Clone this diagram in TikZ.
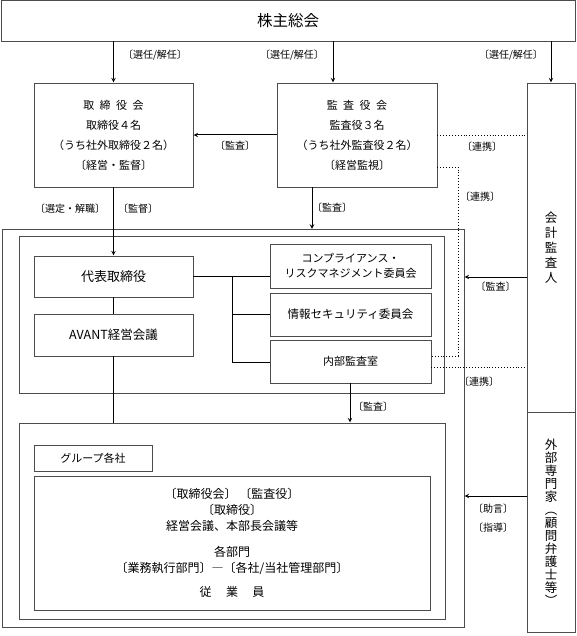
\documentclass[tikz,border=0pt]{standalone}
\usepackage{fontspec}
\setmainfont{Noto Sans CJK JP}
\usetikzlibrary{arrows, positioning, calc}
\tikzstyle{unit} = [rectangle, draw=black!70, line width=0.8pt, inner sep=0pt, align=center, font=\fontsize{11}{20}\selectfont]
\tikzstyle{frame} = [rectangle, draw=black!70, line width=0.8pt, inner sep=0pt]
\tikzstyle{note} = [font=\fontsize{10}{11}\selectfont, inner sep=1pt]
\tikzstyle{arrow} = [line width=1pt, ->, >=stealth, shorten >=0.2pt]
\tikzstyle{wire} = [line width=0.9pt]
\tikzstyle{link} = [line width=0.9pt, dotted]

\begin{document}
\begin{tikzpicture}[x=1pt, y=-1pt]
\useasboundingbox (0,0) rectangle (576,636);
% outside the company
\node (soukai) [unit, minimum width=574, minimum height=41, font=\fontsize{15.5}{18}\selectfont] at (288,20.5) {株主総会};
\node (board) [unit, minimum width=159, minimum height=104] at (113.5,135) {取\hspace{0.5em}締\hspace{0.5em}役\hspace{0.5em}会\\取締役４名\\（うち社外取締役２名）\\〔経営・監督〕};
\node (kansa) [unit, minimum width=160, minimum height=104] at (357,135) {監\hspace{0.5em}査\hspace{0.5em}役\hspace{0.5em}会\\監査役３名\\（うち社外監査役２名）\\〔経営監視〕};
\node (kaikei) [unit, minimum width=48, minimum height=329, font=\fontsize{12.5}{15}\selectfont] at (551,247.5) {会\\計\\監\\査\\人};
\node (gaibu) [unit, minimum width=48, minimum height=220, font=\fontsize{12.5}{13}\selectfont] at (551,522) {外\\部\\専\\門\\家\\︵\\顧\\問\\弁\\護\\士\\等\\︶};
% company
\node (company) [frame, minimum width=462, minimum height=398] at (233,428) {};
\node (exec) [frame, minimum width=425, minimum height=157] at (231.5,314.5) {};
\node (daihyo) [unit, minimum width=159, minimum height=41, font=\fontsize{13}{15}\selectfont] at (113.5,276.5) {代表取締役};
\node (avant) [unit, minimum width=159, minimum height=42, font=\fontsize{12.5}{15}\selectfont] at (113.5,335) {AVANT経営会議};
\node (comp) [unit, minimum width=161, minimum height=44, font=\fontsize{11}{15}\selectfont] at (350.5,266) {コンプライアンス・\\リスクマネジメント委員会};
\node (joho) [unit, minimum width=161, minimum height=43, font=\fontsize{11.5}{15}\selectfont] at (350.5,314.5) {情報セキュリティ委員会};
\node (naibu) [unit, minimum width=161, minimum height=43] at (350.5,361.5) {内部監査室};
\node (group) [frame, minimum width=426, minimum height=196] at (232,521) {};
\node (gname) [unit, minimum width=118, minimum height=26] at (93,458) {グループ各社};
\node (gbody) [unit, minimum width=396, minimum height=134, font=\fontsize{12}{16}\selectfont] at (232,543) {〔取締役会〕\ 〔監査役〕\\〔取締役〕\\経営会議、本部長会議等\\[10pt]各部門\\〔業務執行部門〕―〔各社/当社管理部門〕\\[8pt]従\hspace{1.2em}業\hspace{1.2em}員};

% election
\draw [arrow] (board.north |- soukai.south) -- (board.north);
\draw [arrow] ([xshift=-24pt]kansa.north |- soukai.south) -- ([xshift=-24pt]kansa.north);
\draw [arrow] (kaikei.north |- soukai.south) -- (kaikei.north);
\node [note] at (155,55) {〔選任/解任〕};
\node [note] at (292,55) {〔選任/解任〕};
\node [note] at (511,55) {〔選任/解任〕};
% audit
\draw [arrow] (kansa.west) -- node[note, below=4pt] {〔監査〕} (board.east);
\draw [link] (kansa.east) -- node[note, below=5pt] {〔連携〕} (kansa.east -| kaikei.west);
\coordinate (bend) at (458,167);
\draw [link] (kansa.east |- bend) -- (bend) |- ([yshift=5.5pt]naibu.east);
\node [note] at (480,197) {〔連携〕};
\draw [link] ([yshift=-5.5pt]naibu.east) -- node[note, below=8pt] {〔連携〕} ([yshift=-5.5pt]naibu.east -| kaikei.west);
\draw [arrow] (312,187) -- (312,229);
\node [note] at (332,208) {〔監査〕};
\coordinate (kaikeiIn) at (527,277);
\draw [arrow] (kaikeiIn) -- node[note, below=3pt] {〔監査〕} (kaikeiIn -| company.east);
% management
\draw [arrow] (board.south) -- (daihyo.north);
\node [note] at (70,209) {〔選定・解職〕};
\node [note] at (138,209) {〔監督〕};
\draw [wire] (daihyo) -- (avant);
\draw [wire] (avant.south) -- (avant.south |- group.north);
\coordinate (fork) at (232,276.5);
\draw [wire] (daihyo.east) -- (daihyo.east -| comp.west);
\draw [wire] (fork) |- ([yshift=-0.5pt]naibu.west);
\draw [wire] (fork |- joho.west) -- (joho.west);
\draw [arrow] (naibu.south -| 350,0) -- (group.north -| 350,0);
\node [note] at (373,407) {〔監査〕};
% advice
\coordinate (gaibuOut) at (527,496);
\draw [arrow] (gaibuOut) -- (gaibuOut -| company.east);
\node [note] at (493,509) {〔助言〕};
\node [note] at (493,528) {〔指導〕};
\end{tikzpicture}
\end{document}
